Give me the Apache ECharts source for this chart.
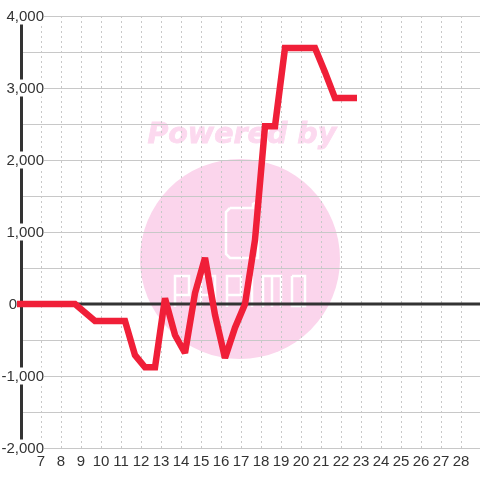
<!DOCTYPE html>
<html><head><meta charset="utf-8">
<style>html,body{margin:0;padding:0;background:#fff}#c{width:480px;height:480px}</style>
<script src="https://cdn.jsdelivr.net/npm/echarts@6/dist/echarts.min.js"></script>
</head><body><div id="c"></div>
<script>
const hours = [5.8,6.7,7.2,7.7,8.2,8.7,9.7,10.2,10.7,11.2,11.7,12.2,12.7,13.2,13.7,14.2,14.7,15.2,15.7,16.2,16.7,17.2,17.7,18.2,18.7,19.2,19.7,20.2,20.7,21.2,21.7,22.2,22.8];
const values = [0,0,0,0,0,0,-235,-235,-235,-235,-710,-880,-880,80,-430,-680,150,640,-150,-750,-330,0,890,2470,2470,3555,3555,3555,3555,3220,2860,2860,2860];
const zeroHours = [6,29];
const zeroValues = [0,0];
const xTickMin = 7, xTickMax = 28;
const yLabeled = [4000,3000,2000,1000,0,-1000,-2000];
const lineColor = '#f01f38', axisColor = '#333333', gridColor = '#c8c8c8', pink = '#fbd5ec', pinkText = '#fcd9ef';

const fmt = v => v.toString().replace(/\B(?=(\d{3})+(?!\d))/g, ',');
const chart = echarts.init(document.getElementById('c'), null, {renderer:'canvas'});
const white = {stroke:'#fff', lineWidth:2.5, fill:null};
const wm = (shape, type='polyline') => ({type, z:-10, silent:true, shape, style:white});
const labelStyle = {color:axisColor,fontSize:15,fontFamily:'Liberation Sans',backgroundColor:'#fff',lineHeight:13,padding:[2,0,0,0]};
chart.setOption({
  animation:false,
  backgroundColor:'#fff',
  grid:{left:21,right:-1,top:16,bottom:32,outerBoundsMode:'none'},
  graphic:{elements:[
    {type:'circle',z:-20,silent:true,shape:{cx:240,cy:259,r:100},style:{fill:pink}},
    {type:'text',z:-20,silent:true,left:147,top:121,style:{text:'Powered by',font:'italic bold 28.5px "DejaVu Sans"',fill:pinkText,stroke:pinkText,lineWidth:0.8}},
    wm({points:[[230,208],[253,208],[253,204],[257,202],[258,204],[258,258],[230,258],[226,254],[226,212],[230,208]]}),
    wm({points:[[175,307],[175,276],[189,276],[189,295],[175,295]]}),
    wm({points:[[201,307],[201,276],[215,276],[215,307]]}),
    wm({points:[[201,295],[215,295]]}),
    wm({points:[[227,307],[227,276],[241,276],[241,295],[227,295]]}),
    wm({points:[[252,276],[252,307]]}),
    wm({points:[[263,307],[263,276],[281,276],[281,307]]}),
    wm({points:[[272,276],[272,307]]}),
    wm({points:[[292,276],[305,276],[305,306],[292,306],[292,276]]})
  ]},
  xAxis:{
    type:'value',min:6,max:29,interval:1,position:'bottom',
    axisLine:{show:false},axisTick:{show:false},
    axisLabel:{color:axisColor,fontSize:15,fontFamily:'Liberation Sans',margin:6,showMinLabel:false,showMaxLabel:false,
      formatter:v=>(v>=xTickMin&&v<=xTickMax)?String(v):''},
    splitLine:{show:true,lineStyle:{color:gridColor,type:[2,3],width:1}}
  },
  yAxis:{
    type:'value',min:-2000,max:4000,interval:500,
    axisLine:{show:true,lineStyle:{color:axisColor,width:3}},
    axisTick:{show:false},
    axisLabel:{inside:true,align:'right',margin:23,
      rich:{n:labelStyle,gap:{width:27,fontSize:15,lineHeight:13,padding:[2,0,0,0]}},
      formatter:v=>!yLabeled.includes(v)?'':(v===0?'{n|0}{gap|}':'{n|'+fmt(v)+'}')},
    splitLine:{show:true,lineStyle:{color:gridColor,width:1}}
  },
  series:[{
    type:'line',symbol:'none',z:1,clip:false,
    data:zeroHours.map((h,i)=>[h,zeroValues[i]]),
    lineStyle:{color:axisColor,width:3,cap:'butt'}
  },{
    type:'line',symbol:'none',z:3,clip:false,
    data:hours.map((h,i)=>[h,values[i]]),
    lineStyle:{color:lineColor,width:6.5,join:'miter',cap:'butt',miterLimit:2.5}
  }]
});
</script></body></html>
